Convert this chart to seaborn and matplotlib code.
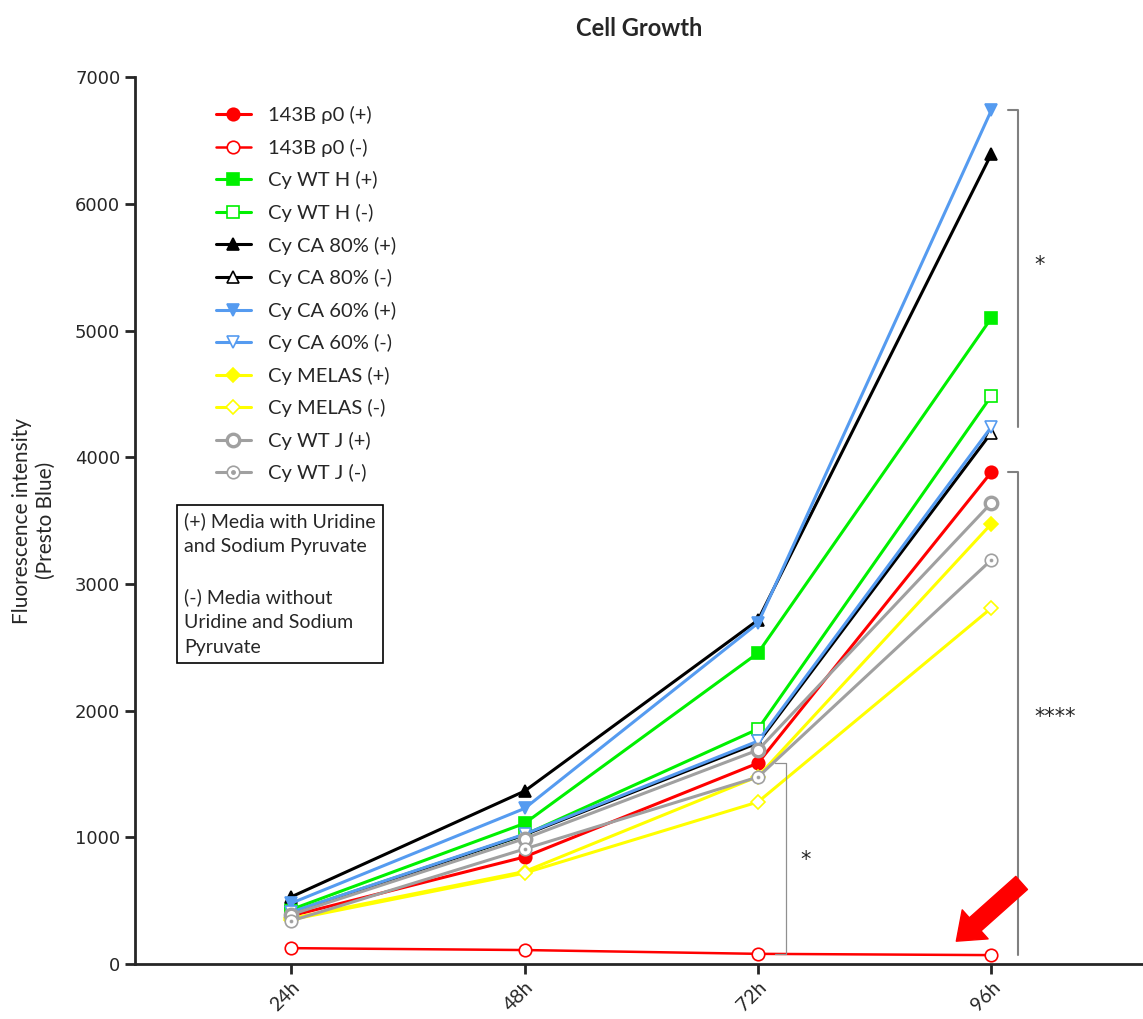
import pandas as pd
import matplotlib.pyplot as plt
import seaborn as sns
from matplotlib.lines import Line2D
from matplotlib.legend_handler import HandlerTuple

times = ["24h", "48h", "72h", "96h"]

rho0_pos = [380, 845, 1586, 3883]
rho0_neg = [125, 110, 80, 70]
wth_pos = [430, 1110, 2455, 5100]
wth_neg = [410, 1020, 1855, 4485]
ca80_pos = [530, 1365, 2715, 6395]
ca80_neg = [400, 1020, 1745, 4195]
ca60_pos = [480, 1228, 2691, 6740]
ca60_neg = [410, 1025, 1760, 4240]
melas_pos = [360, 730, 1480, 3475]
melas_neg = [350, 718, 1279, 2810]
wtj_pos = [390, 990, 1689, 3640]
wtj_neg = [340, 908, 1476, 3190]

groups = ["143B \u03c10 (+)", "143B \u03c10 (-)", "Cy WT H (+)", "Cy WT H (-)",
          "Cy CA 80% (+)", "Cy CA 80% (-)", "Cy CA 60% (+)", "Cy CA 60% (-)",
          "Cy MELAS (+)", "Cy MELAS (-)", "Cy WT J (+)", "Cy WT J (-)"]
values = [rho0_pos, rho0_neg, wth_pos, wth_neg, ca80_pos, ca80_neg,
          ca60_pos, ca60_neg, melas_pos, melas_neg, wtj_pos, wtj_neg]

df = pd.DataFrame([(g, t, v) for g, vals in zip(groups, values) for t, v in zip(times, vals)],
                  columns=["Group", "Time", "Value"])

red, green, blue, yellow, gray = "#FF0000", "#00F000", "#559BF0", "#FFFF00", "#A0A0A0"
styles = {
    groups[0]: (red, "o", True),
    groups[1]: (red, "o", False),
    groups[2]: (green, "s", True),
    groups[3]: (green, "s", False),
    groups[4]: ("black", "^", True),
    groups[5]: ("black", "^", False),
    groups[6]: (blue, "v", True),
    groups[7]: (blue, "v", False),
    groups[8]: (yellow, "D", True),
    groups[9]: (yellow, "D", False),
    groups[10]: (gray, "o", False),
    groups[11]: (gray, "o", False),
}

sns.set_style("ticks")
plt.rcParams["font.family"] = ["Lato", "DejaVu Sans"]

fig = plt.figure(figsize=(11.43, 10.19), dpi=100)
ax = fig.add_axes([0.118, 0.054, 0.882, 0.870])

for g in groups:
    c, m, filled = styles[g]
    lw = 1.8 if g == groups[1] else 2.2
    ms = 7 if m == "D" else 9
    mew = 2.4 if g == groups[10] else 1.2
    sns.lineplot(data=df[df["Group"] == g], x="Time", y="Value", color=c, marker=m,
                 markersize=ms, markerfacecolor=c if filled else "white",
                 markeredgecolor=c, markeredgewidth=mew, linewidth=lw,
                 label=g, ax=ax, sort=False, errorbar=None)

# centre dot for WT J (-)
sns.scatterplot(x=times, y=wtj_neg, color=gray, s=8, ax=ax, legend=False, zorder=5)

ax.set_xlim(-0.67, 3.65)
ax.set_ylim(0, 7000)
ax.set_yticks(range(0, 7001, 1000))
ax.set_xlabel("")
ax.set_ylabel("Fluorescence intensity\n(Presto Blue)", fontsize=15, labelpad=14)
ax.set_title("Cell Growth", fontsize=17, fontweight="bold", pad=30)
sns.despine(ax=ax)
for s in ["left", "bottom"]:
    ax.spines[s].set_linewidth(2)
ax.tick_params(axis="both", direction="out", length=7, width=2, labelsize=13)
ax.tick_params(axis="x", labelsize=14)
for lab in ax.get_yticklabels():
    lab.set_fontfamily("DejaVu Sans")
plt.setp(ax.get_xticklabels(), rotation=45, ha="right", rotation_mode="anchor")

handles, labels = ax.get_legend_handles_labels()
dot = Line2D([], [], linestyle="none", marker="o", markersize=2.5, color=gray)
handles[-1] = (handles[-1], dot)
ax.legend(handles=handles, labels=labels, loc="upper left", bbox_to_anchor=(0.062, 0.988),
          frameon=False, fontsize=14.5, labelspacing=0.72, handlelength=1.75,
          handletextpad=0.85, handler_map={tuple: HandlerTuple(ndivide=1, pad=0)})

ax.text(0.049, 0.509,
        "(+) Media with Uridine\nand Sodium Pyruvate\n\n(-) Media without\nUridine and Sodium\nPyruvate",
        transform=ax.transAxes, fontsize=14, va="top", ha="left", linespacing=1.55,
        bbox=dict(boxstyle="square,pad=0.38", facecolor="white", edgecolor="black", linewidth=1.2))

# significance brackets
star = dict(fontsize=15, ha="center", va="center", family="DejaVu Sans")
bx = 3.115
ax.plot([bx - 0.045, bx, bx], [ca60_pos[3], ca60_pos[3], ca60_neg[3]], color="#808080", lw=1.5)
ax.text(bx + 0.09, (ca60_pos[3] + ca60_neg[3]) / 2 + 30, "*", **star)
ax.plot([bx - 0.045, bx, bx], [rho0_pos[3], rho0_pos[3], rho0_neg[3]], color="#808080", lw=1.5)
ax.text(bx + 0.16, (rho0_pos[3] + rho0_neg[3]) / 2 - 30, "****", **star)
b3 = 2.122
ax.plot([b3 - 0.05, b3, b3, b3 - 0.05], [rho0_pos[2], rho0_pos[2], rho0_neg[2], rho0_neg[2]],
        color="#909090", lw=0.9)
ax.text(b3 + 0.08, 820, "*", **star)

# red arrow pointing at the rho0 (-) line
ax.annotate("", xy=(2.85, 180), xytext=(3.13, 640),
            arrowprops=dict(arrowstyle="simple,head_width=2.0,head_length=1.3,tail_width=0.9",
                            color="red", mutation_scale=14, shrinkA=0, shrinkB=0))

fig.savefig("out.png", dpi=100)
